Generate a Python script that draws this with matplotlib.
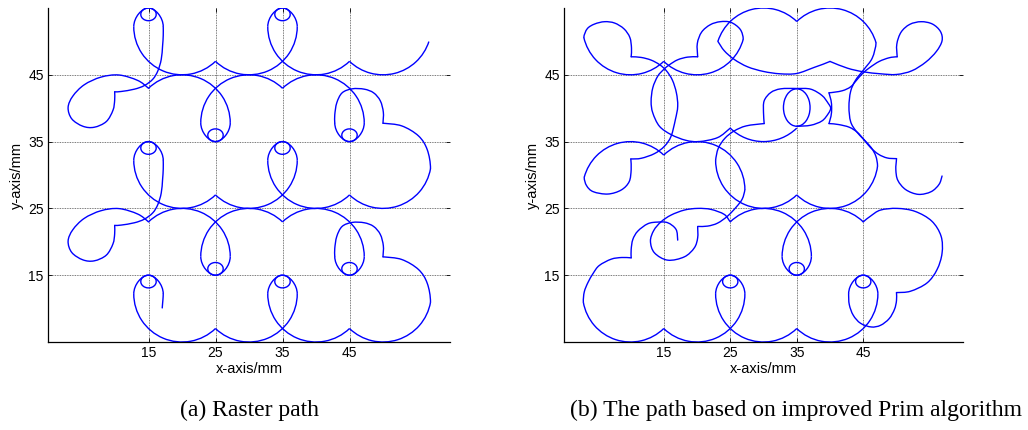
#!/usr/bin/env python3
"""Tool path comparison: raster path vs. path from the improved Prim algorithm."""

import numpy as np
import matplotlib
matplotlib.use("Agg")
import matplotlib.pyplot as plt
from matplotlib.patches import Arc, PathPatch
from matplotlib.path import Path

BLUE = "#0000ff"
LW = 1.0
R_BIG = 7.2                 # radius of the overlapping unit circles (mm)
LOOP_W, LOOP_H = 2.3, 1.9   # small turn-around loops
TICKS = [15, 25, 35, 45]

# ---------------------------------------------------------------- (a) raster
# big arcs (cx, cy, theta1, theta2), counter-clockwise, radius R_BIG
RASTER_ARCS = [
    (20, 12.2, 180, 314), (30, 12.2, 226, 360), (40, 12.2, 180, 314), (50, 12.2, 226, 350),
    (40, 17.8, 0, 134), (30, 17.8, 46, 180), (20, 17.8, 0, 134),
    (20, 32.2, 180, 314), (30, 32.2, 226, 360), (40, 32.2, 180, 314), (50, 32.2, 226, 350),
    (40, 37.8, 0, 134), (30, 37.8, 46, 180), (20, 37.8, 0, 134),
    (20, 52.2, 180, 314), (30, 52.2, 226, 360), (40, 52.2, 180, 314), (50, 52.2, 226, 342),
]
# loops: (x, y of loop tip, +1 loop above the teardrop / -1 loop below)
RASTER_LOOPS = [(15, 15, 1), (35, 15, 1), (25, 15, -1), (45, 15, -1),
                (15, 35, 1), (35, 35, 1), (25, 35, -1), (45, 35, -1),
                (15, 55, 1), (35, 55, 1)]

# free-hand strokes; first and last point only steer the end tangents
RASTER_START = [(17.0, 8.9), (17.05, 10.1), (17.15, 11.3), (17.2, 12.2), (17.2, 13.3)]
RIGHT_LOBE = [(56.6, 8.1), (57.09, 10.95), (56.6, 13.8), (55.3, 15.85), (52.8, 17.35),
              (50.0, 17.75), (49.0, 17.8)]
NOTCH_ARC = [(50.0, 16.7), (50.0, 17.75), (50.05, 19.4), (49.6, 21.1), (48.6, 22.3),
             (47.2, 22.85), (45.4, 22.9), (43.9, 22.3), (43.1, 20.8), (42.8, 19.0),
             (42.8, 17.8), (42.8, 16.6)]
LEFT_LOBE = [(16.37, 21.67), (15.0, 22.98), (13.4, 24.15), (10.6, 24.97), (7.9, 24.65),
             (5.4, 23.5), (3.7, 21.8), (3.0, 20.1), (3.55, 18.4), (5.2, 17.3), (6.9, 17.15),
             (8.7, 18.0), (9.7, 19.7), (9.95, 21.2), (9.95, 22.45), (9.95, 23.6)]
LEFT_RISE = [(8.9, 22.45), (9.95, 22.45), (10.9, 22.5), (12.9, 22.85), (14.4, 23.4),
             (15.65, 24.35), (16.4, 25.6), (16.9, 27.3), (17.1, 29.3), (17.2, 30.9),
             (17.2, 32.2), (17.2, 33.4)]
BAND_SHIFTS = [0, 20]       # the two middle bands repeat 20 mm higher

# ------------------------------------------------------- (b) improved Prim
PRIM_ARCS = [
    (10, 12.2, 190, 314), (20, 12.2, 226, 360), (30, 12.2, 180, 314), (40, 12.2, 226, 360),
    (30, 17.8, 0, 134), (40, 17.8, 46, 180),
    (10, 27.8, 46, 165), (20, 27.8, 0, 134),
    (30, 32.2, 180, 314), (40, 32.2, 226, 353),
    (30, 42.2, 226, 314),
    (10, 52.2, 193, 314), (20, 52.2, 226, 345),
    (30, 47.8, 46, 162), (40, 47.8, 16, 134),
]
PRIM_LOOPS = [(25, 15, 1), (45, 15, 1), (35, 15, -1)]
PRIM_RINGS = [(35.0, 40.1, 4.0, 5.6)]     # (x, y, width, height)
PRIM_STROKES = [
    # bottom-left lobe
    [(3.17, 9.48), (2.91, 10.95), (3.05, 12.5), (3.6, 13.9), (4.4, 15.3), (5.3, 16.45),
     (7.1, 17.4), (8.7, 17.65), (10.1, 17.6), (11.1, 17.6)],
    # start of the path
    [(17.2, 19.0), (17.1, 20.25), (16.85, 21.85), (15.6, 22.85), (14.1, 22.95),
     (12.6, 22.7), (11.1, 21.6), (10.35, 20.35), (10.1, 18.85), (10.1, 17.6), (10.1, 16.6)],
    [(20.1, 23.3), (20.1, 22.25), (20.1, 20.6), (19.6, 19.1), (18.1, 17.75), (15.6, 17.25),
     (13.6, 18.35), (13.0, 20.1), (13.5, 21.7), (14.6, 23.0), (16.1, 24.0), (18.1, 24.75),
     (20.1, 25.0), (22.1, 24.85), (24.1, 24.1), (25.0, 23.0), (25.8, 22.2)],
    [(27.2, 28.8), (27.2, 27.8), (26.8, 26.4), (25.9, 25.2), (24.6, 23.85), (23.1, 22.8),
     (21.6, 22.35), (20.1, 22.3), (19.1, 22.3)],
    # teardrop at 45 back to the notch
    [(42.8, 13.4), (42.8, 12.2), (42.9, 10.6), (43.5, 9.0), (44.6, 7.8), (46.2, 7.25),
     (47.6, 7.5), (48.9, 8.5), (49.7, 9.9), (50.0, 11.2), (50.0, 12.4), (50.0, 13.4)],
    # bottom-right lobe
    [(49.0, 12.4), (50.0, 12.4), (52.1, 12.6), (54.6, 13.85), (56.1, 15.85), (56.85, 18.3),
     (56.7, 20.85), (55.3, 23.1), (52.8, 24.55), (50.1, 25.0), (47.6, 24.75), (46.1, 23.85),
     (45.0, 22.98), (44.2, 22.2)],
    # middle-left lobe
    [(3.38, 30.92), (3.04, 29.66), (3.4, 28.4), (4.4, 27.5), (6.6, 27.15), (8.6, 27.75),
     (9.8, 29.0), (10.1, 30.8), (10.05, 32.4), (10.05, 33.4)],
    # lens at x = 15
    [(9.1, 47.7), (10.1, 47.7), (11.6, 47.6), (13.1, 47.2), (14.4, 46.5), (15.4, 45.6),
     (16.3, 44.2), (16.9, 42.3), (17.1, 40.3), (16.75, 38.3), (16.1, 35.8), (15.1, 34.3),
     (13.6, 33.2), (11.6, 32.5), (10.05, 32.4), (9.05, 32.4)],
    [(21.1, 47.7), (20.1, 47.7), (18.6, 47.65), (17.1, 47.25), (15.85, 46.5), (15.0, 45.8),
     (14.1, 44.8), (13.35, 43.05), (13.1, 41.0), (13.35, 39.3), (14.35, 37.3),
     (16.1, 36.05), (18.3, 35.2), (20.3, 35.0), (23.1, 35.6), (25.0, 37.02), (26.0, 37.9)],
    # top-left and second lobe
    [(3.27, 49.31), (2.98, 50.58), (3.5, 51.9), (4.6, 52.6), (6.1, 52.95), (7.6, 52.75),
     (9.0, 51.9), (9.9, 50.6), (10.15, 49.0), (10.1, 47.7), (10.05, 46.7)],
    [(26.6, 49.08), (26.95, 50.34), (26.5, 51.8), (25.1, 52.85), (23.5, 52.95),
     (22.0, 52.5), (20.7, 51.4), (20.05, 49.7), (20.1, 47.7), (20.15, 46.7)],
    # upper double bubble, lower edge
    [(22.2, 51.4), (23.14, 50.0), (24.1, 48.6), (25.6, 47.3), (27.6, 46.2), (30.0, 45.5),
     (32.5, 45.15), (35.0, 45.2), (37.6, 46.1), (40.0, 47.0), (41.0, 47.6)],
    # top-right lobe
    [(37.4, 48.0), (40.0, 47.0), (42.6, 46.0), (45.0, 45.45), (47.6, 45.15), (50.0, 45.05),
     (52.3, 45.6), (54.4, 46.9), (56.0, 48.5), (56.85, 50.1), (56.6, 51.5), (55.4, 52.6),
     (53.7, 52.95), (52.0, 52.55), (50.7, 51.4), (50.05, 49.6), (50.1, 47.7), (50.15, 46.7)],
    # four-cornered gap between x = 40 and 43
    [(51.1, 47.7), (50.1, 47.7), (48.9, 47.55), (47.4, 47.0), (46.0, 46.1), (44.9, 45.2),
     (44.0, 44.2), (43.1, 43.2), (41.8, 42.6), (39.85, 42.3), (38.85, 42.3)],
    [(39.8, 43.3), (39.85, 42.3), (40.15, 41.2), (40.25, 40.0), (40.15, 38.8),
     (39.85, 37.7), (39.8, 36.7)],
    [(38.85, 37.7), (39.85, 37.7), (41.3, 37.55), (42.9, 37.15), (44.1, 36.4), (45.1, 35.3),
     (46.1, 34.1), (47.3, 33.1), (48.6, 32.55), (50.0, 32.45), (51.0, 32.45)],
    [(46.97, 29.83), (47.15, 31.32), (46.9, 32.8), (46.2, 34.1), (45.1, 35.3), (43.9, 36.6),
     (43.1, 38.0), (42.85, 40.2), (43.1, 42.5), (43.85, 44.2), (45.1, 45.8), (46.35, 47.5),
     (46.92, 49.78), (46.5, 51.2)],
    # right-middle lobe, end of the path
    [(50.0, 33.5), (50.0, 32.45), (49.9, 30.8), (50.2, 29.2), (51.4, 27.8), (53.3, 27.1),
     (55.2, 27.5), (56.4, 28.6), (56.85, 29.85), (57.1, 30.9)],
    # middle shape
    [(22.85, 31.0), (22.8, 32.2), (23.2, 34.0), (24.2, 35.5), (25.6, 36.6), (27.4, 37.35),
     (30.1, 37.7), (31.1, 37.75)],
    [(30.1, 36.7), (30.1, 37.7), (30.0, 39.35), (30.1, 41.1), (31.1, 42.35), (32.6, 42.9),
     (35.0, 42.95), (37.1, 42.85), (38.8, 41.9), (39.75, 40.7), (40.1, 40.0), (39.75, 39.2),
     (38.8, 38.1), (37.1, 37.45), (35.0, 37.3), (34.0, 37.4)],
]


def smooth_path(pts):
    """Catmull-Rom curve through pts[1:-1]; pts[0] and pts[-1] steer the ends."""
    p = np.asarray(pts, float)
    verts, codes = [p[1]], [Path.MOVETO]
    for i in range(1, len(p) - 2):
        c1 = p[i] + (p[i + 1] - p[i - 1]) / 6.0
        c2 = p[i + 1] - (p[i + 2] - p[i]) / 6.0
        verts += [c1, c2, p[i + 1]]
        codes += [Path.CURVE4] * 3
    return Path(verts, codes)


def add_stroke(ax, pts):
    ax.add_patch(PathPatch(smooth_path(pts), fill=False, edgecolor=BLUE, lw=LW,
                           capstyle="round", joinstyle="round"))


def add_arcs(ax, arcs):
    for cx, cy, t1, t2 in arcs:
        ax.add_patch(Arc((cx, cy), 2 * R_BIG, 2 * R_BIG, theta1=t1, theta2=t2,
                         color=BLUE, lw=LW))


def add_loops(ax, loops):
    for x, y, d in loops:
        ax.add_patch(Arc((x, y - d * LOOP_H / 2), LOOP_W, LOOP_H, color=BLUE, lw=LW))
        for s in (-1, 1):
            verts = [(x, y), (x + s * 1.0, y), (x + s * 2.2, y - d * 1.4),
                     (x + s * 2.2, y - d * 2.8)]
            path = Path(verts, [Path.MOVETO] + [Path.CURVE4] * 3)
            ax.add_patch(PathPatch(path, fill=False, edgecolor=BLUE, lw=LW))


def style_axes(ax):
    ax.set_xlim(0, 60)
    ax.set_ylim(5, 55)
    ax.set_xticks(TICKS)
    ax.set_yticks(TICKS)
    ax.grid(True, color="0.3", lw=0.6, ls=(0, (1, 1)))
    ax.set_axisbelow(True)
    for side in ("top", "right"):
        ax.spines[side].set_visible(False)
    for side in ("left", "bottom"):
        ax.spines[side].set_linewidth(0.9)
    ax.tick_params(direction="in", length=3, width=0.6, top=True, right=True,
                   labelsize=10, pad=3)
    ax.set_xlabel("x-axis/mm", fontsize=10.5, labelpad=1)
    ax.set_ylabel("y-axis/mm", fontsize=10.5, labelpad=3)


plt.rcParams["font.family"] = ["Liberation Sans", "DejaVu Sans"]
fig = plt.figure(figsize=(10.28, 4.30), dpi=100)
ax_a = fig.add_axes([48 / 1028, 88 / 430, 402 / 1028, 334 / 430])
ax_b = fig.add_axes([564 / 1028, 88 / 430, 399 / 1028, 334 / 430])

# (a) raster path
add_arcs(ax_a, RASTER_ARCS)
add_loops(ax_a, RASTER_LOOPS)
add_stroke(ax_a, RASTER_START)
for dy in BAND_SHIFTS:
    for motif in (RIGHT_LOBE, NOTCH_ARC, LEFT_LOBE, LEFT_RISE):
        add_stroke(ax_a, [(x, y + dy) for x, y in motif])
style_axes(ax_a)

# (b) improved Prim path
add_arcs(ax_b, PRIM_ARCS)
add_loops(ax_b, PRIM_LOOPS)
for x, y, w, h in PRIM_RINGS:
    ax_b.add_patch(Arc((x, y), w, h, color=BLUE, lw=LW))
for stroke in PRIM_STROKES:
    add_stroke(ax_b, stroke)
style_axes(ax_b)

fig.text(249 / 1028, 1 - 410 / 430, "(a) Raster path", ha="center", va="center",
         fontsize=17, family="Liberation Serif")
fig.text(796 / 1028, 1 - 410 / 430, "(b) The path based on improved Prim algorithm",
         ha="center", va="center", fontsize=17, family="Liberation Serif")

fig.savefig("out.png", dpi=100)
